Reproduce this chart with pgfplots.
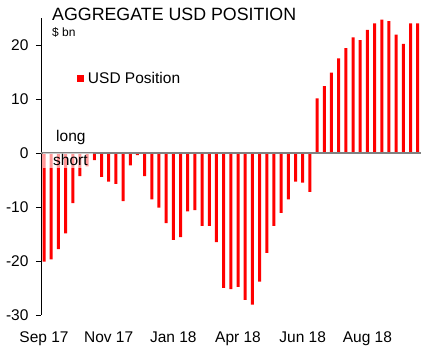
\documentclass[border=0pt]{standalone}
\usepackage{pgfplots}
\pgfplotsset{compat=1.18}
\usepackage{fontspec}
\setmainfont{Liberation Sans}
\begin{document}
\begin{tikzpicture}
\useasboundingbox (0,0) rectangle (426pt,350pt);
\begin{axis}[
  at={(41pt,35pt)}, anchor=south west,
  scale only axis, width=380pt, height=297pt,
  xmin=-0.42, xmax=52.46, ymin=-30, ymax=25,
  axis lines*=left,
  x axis line style={draw=none},
  y axis line style={line width=0.8pt, black},
  xtick={0,9,18,27,36,45},
  xticklabels={Sep 17, Nov 17, Jan 18, Apr 18, Jun 18, Aug 18},
  ytick={-30,-20,-10,0,10,20},
  yticklabels={-30,-20,-10,0,10,20},
  tick align=outside, major tick length=5pt,
  xtick style={draw=none},
  ytick style={line width=0.8pt, black},
  tick label style={font=\fontsize{15.5}{18}\selectfont},
  xticklabel style={yshift=-8pt},
  yticklabel style={xshift=-4pt},
  ybar, bar width=3pt,
  clip=false,
  legend style={at={(0.0947,0.796)}, anchor=west, draw=none, fill=none, inner sep=0pt,
    font=\fontsize{15.5}{18}\selectfont},
  legend image code/.code={\fill[red] (0pt,-3.3pt) rectangle (6.6pt,3.3pt); \path (8.8pt,0pt);},
]
\addplot[fill=red, draw=none] coordinates {
(0,-20.1) (1,-19.7) (2,-17.8) (3,-14.9) (4,-9.3) (5,-4.3) (6,-2.5) (7,-1.3)
(8,-4.4) (9,-5.3) (10,-5.7) (11,-8.9) (12,-2.3) (13,-0.4) (14,-4.3) (15,-8.6)
(16,-10.1) (17,-13.0) (18,-16.1) (19,-15.6) (20,-10.8) (21,-10.6) (22,-13.5) (23,-13.5)
(24,-16.5) (25,-25.0) (26,-25.2) (27,-24.8) (28,-27.2) (29,-28.1) (30,-23.8) (31,-18.5)
(32,-13.5) (33,-11.1) (34,-8.6) (35,-5.3) (36,-5.5) (37,-7.2) (38,10.1) (39,12.4)
(40,14.9) (41,17.5) (42,19.4) (43,21.4) (44,20.9) (45,22.8) (46,24.0) (47,24.7)
(48,24.4) (49,21.9) (50,20.2) (51,24.0) (52,24.0)
};
\addlegendentry{USD Position}
\draw[black!50, line width=1.3pt] (axis cs:-0.42,0) -- (axis cs:52.46,0);
\end{axis}
\fill[white, opacity=0.6] (43pt,182pt) rectangle (93pt,197pt);
\node[anchor=base west, inner sep=0pt, font=\fontsize{15.5}{18}\selectfont] at (56pt,208.3pt) {long};
\node[anchor=base west, inner sep=0pt, font=\fontsize{15.5}{18}\selectfont] at (53pt,184.3pt) {short};
\node[anchor=base west, inner sep=0pt, font=\fontsize{17.8}{20}\selectfont] at (52pt,329pt) {AGGREGATE USD POSITION};
\node[anchor=base west, inner sep=0pt, font=\fontsize{12}{14}\selectfont] at (52pt,313pt) {\$ bn};
\end{tikzpicture}
\end{document}
